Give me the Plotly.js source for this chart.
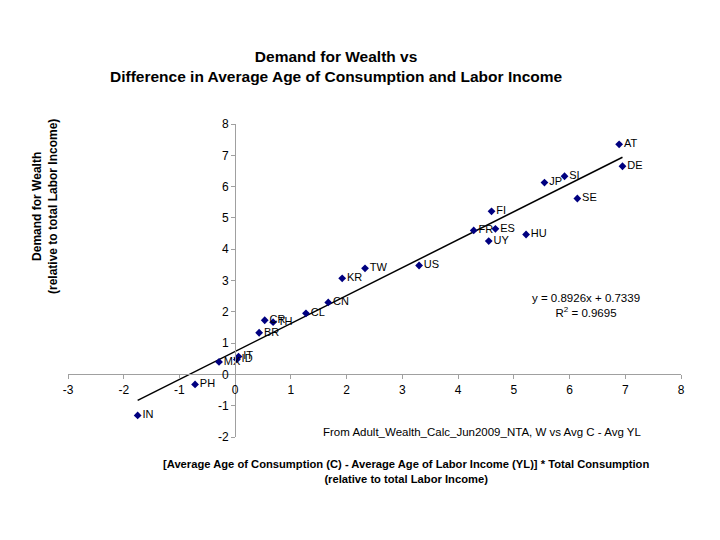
<!DOCTYPE html>
<html>
<head>
<meta charset="utf-8">
<script src="https://cdn.plot.ly/plotly-3.0.1.min.js"></script>
<style>html,body{margin:0;padding:0;background:#fff;}#chart{width:720px;height:540px;}</style>
</head>
<body>
<div id="chart"></div>
<script>
// Data
const countries = ["AT","DE","SI","JP","SE","FI","ES","FR","UY","HU","US","TW","KR","CN","CL","TH","CR","BR","IT","ID","MX","PH","IN"];
const ageGapWealthX = [6.89, 6.95, 5.91, 5.55, 6.14, 4.60, 4.67, 4.28, 4.55, 5.22, 3.30, 2.33, 1.92, 1.67, 1.27, 0.68, 0.53, 0.43, 0.06, 0.03, -0.29, -0.72, -1.75];
const demandWealthY = [7.35, 6.65, 6.33, 6.13, 5.62, 5.21, 4.65, 4.60, 4.26, 4.47, 3.48, 3.39, 3.07, 2.30, 1.95, 1.67, 1.73, 1.33, 0.57, 0.48, 0.40, -0.32, -1.31];
const trendSlope = 0.8926;
const trendIntercept = 0.7339;
const rSquared = 0.9695;
const xTickVals = [-3,-2,-1,0,1,2,3,4,5,6,7,8];
const xTickText = ["-3","-2","-1","0","1","2","3","4","5","6","7","8"];
const yTickVals = [-2,-1,0,1,2,3,4,5,6,7,8];
const yTickText = ["-2","-1","0","1","2","3","4","5","6","7","8"];

const xMin = Math.min(...ageGapWealthX), xMax = Math.max(...ageGapWealthX);
const trendX = [xMin, xMax];
const trendY = trendX.map(v => trendSlope * v + trendIntercept);

const FONT = "Liberation Sans, Arial, sans-serif";

const traces = [
  {
    x: trendX, y: trendY, mode: "lines", type: "scatter",
    line: {color: "#000000", width: 1.5}, hoverinfo: "skip", showlegend: false
  },
  {
    x: ageGapWealthX, y: demandWealthY, text: countries,
    mode: "markers+text", type: "scatter", textposition: "middle right",
    textfont: {family: FONT, size: 11, color: "#000000"},
    marker: {symbol: "diamond", size: 6, color: "#000080"},
    showlegend: false
  }
];

const layout = {
  width: 720, height: 540,
  paper_bgcolor: "#ffffff", plot_bgcolor: "#ffffff",
  margin: {l: 68, r: 39, t: 124, b: 103},
  font: {family: FONT, size: 12, color: "#000000"},
  showlegend: false,
  xaxis: {
    range: [-3, 8], tickvals: xTickVals, ticktext: xTickText, anchor: "free", position: 0.2,
    showline: true, linecolor: "#a0a0a0", linewidth: 1,
    ticks: "outside", ticklen: 4, tickcolor: "#a0a0a0",
    showgrid: false, zeroline: false,
    tickfont: {family: FONT, size: 12, color: "#000000"}
  },
  yaxis: {
    range: [-2, 8], tickvals: yTickVals, ticktext: yTickText, anchor: "free", position: 3/11,
    showline: true, linecolor: "#a0a0a0", linewidth: 1,
    ticks: "outside", ticklen: 4, tickcolor: "#a0a0a0",
    showgrid: false, zeroline: false,
    tickfont: {family: FONT, size: 12, color: "#000000"}
  },
  annotations: [
    {text: "<b>Demand for Wealth vs</b><br><b>Difference in Average Age of Consumption and Labor Income</b>",
     xref: "paper", yref: "paper", x: (336-68)/613, y: (540-103-67)/313, xanchor: "center", yanchor: "middle",
     showarrow: false, font: {family: FONT, size: 15.5, color: "#000"}},
    {text: "<b>Demand for Wealth</b><br><b>(relative to total Labor Income)</b>",
     xref: "paper", yref: "paper", x: (45-68)/613, y: (437-207)/313, xanchor: "center", yanchor: "middle",
     textangle: -90, showarrow: false, font: {family: FONT, size: 12, color: "#000"}},
    {text: "<b>[Average Age of Consumption (C) - Average Age of Labor Income (YL)] * Total Consumption</b><br><b>(relative to total Labor Income)</b>",
     xref: "paper", yref: "paper", x: (406-68)/613, y: (437-471)/313, xanchor: "center", yanchor: "middle",
     showarrow: false, font: {family: FONT, size: 11.2, color: "#000"}},
    {text: "From Adult_Wealth_Calc_Jun2009_NTA, W vs Avg C - Avg YL",
     xref: "paper", yref: "paper", x: (321-68)/613, y: (437-432)/313, xanchor: "left", yanchor: "middle",
     showarrow: false, font: {family: FONT, size: 11.5, color: "#000"}},
    {text: "y = " + trendSlope.toFixed(4) + "x + " + trendIntercept.toFixed(4) + "<br>R<sup>2</sup> = " + rSquared.toFixed(4),
     xref: "paper", yref: "paper", x: (586-68)/613, y: (437-305)/313, xanchor: "center", yanchor: "middle",
     showarrow: false, font: {family: FONT, size: 11.5, color: "#000"}}
  ]
};

Plotly.newPlot("chart", traces, layout, {staticPlot: true, displayModeBar: false});
</script>
</body>
</html>
